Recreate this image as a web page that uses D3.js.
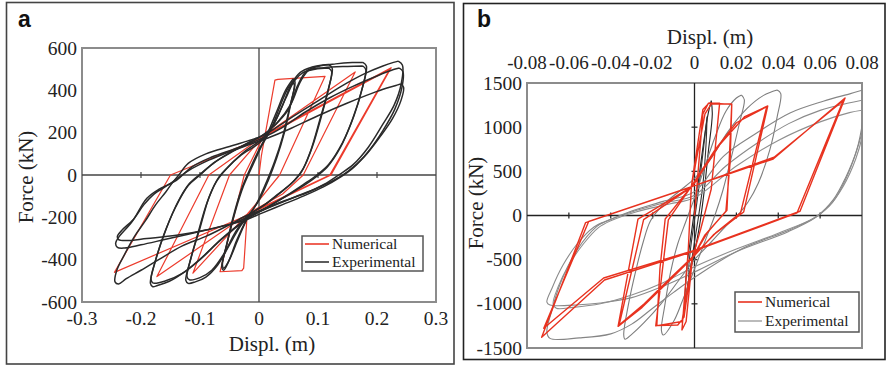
<!DOCTYPE html>
<html>
<head>
<meta charset="utf-8">
<script src="https://cdn.jsdelivr.net/npm/d3@7"></script>
<style>
  body { margin: 0; background: #fff; }
  svg text { font-family: "Liberation Serif", "Times New Roman", serif; fill: #222; }
</style>
</head>
<body>
<svg id="fig" width="888" height="366"></svg>
<script>
// ---- panel a : axes ----
const xTicksA = [-0.3, -0.2, -0.1, 0, 0.1, 0.2, 0.3];
const xTickLabelsA = ['-0.3', '-0.2', '-0.1', '0', '0.1', '0.2', '0.3'];
const yTicksA = [-600, -400, -200, 0, 200, 400, 600];

// ---- panel b : axes ----
const xTicksB = [-0.08, -0.06, -0.04, -0.02, 0, 0.02, 0.04, 0.06, 0.08];
const xTickLabelsB = ['-0.08', '-0.06', '-0.04', '-0.02', '0', '0.02', '0.04', '0.06', '0.08'];
const yTicksB = [-1500, -1000, -500, 0, 500, 1000, 1500];

const legendLabels = ['Numerical', 'Experimental'];

// panel a, numerical: one path in loading order [displ m, force kN]
const numericalA = [
  [0, 0], [0.004, 90], [0.027, 448], [0.032, 452], [0.065, 458], [0.112, 466],
  [0.035, 0], [0.0, -120], [-0.02, -185], [-0.026, -440], [-0.029, -452], [-0.066, -457],
  [-0.025, 0], [0.008, 185], [0.163, 487],
  [0.075, 0], [0.04, -90], [-0.02, -185], [-0.112, -464],
  [-0.05, 0], [0.008, 185], [0.222, 502],
  [0.12, 0], [-0.02, -185], [-0.173, -480],
  [-0.085, 0], [0.008, 185], [0.224, 507],
  [0.122, 0], [-0.02, -190], [-0.245, -460],
  [-0.15, 0], [0.008, 180], [0.222, 500], [0.12, 0]
];

// panel a, experimental: one list per cycle
const experimentalA = [
  [[0.058, 455], [0.061, 440], [0.054, 340], [0.043, 200], [0.03, 80], [0.015, -30], [0, -120], [-0.018, -195], [-0.035, -300], [-0.05, -400], [-0.06, -450], [-0.063, -438], [-0.055, -330], [-0.043, -190], [-0.03, -70], [-0.015, 30], [0, 120], [0.015, 200], [0.03, 300], [0.045, 400], [0.058, 455]],
  [[0.057, 440], [0.06, 425], [0.052, 320], [0.04, 180], [0.026, 60], [0.01, -50], [-0.005, -140], [-0.02, -205], [-0.038, -310], [-0.052, -410], [-0.06, -440], [-0.062, -425], [-0.053, -310], [-0.04, -170], [-0.026, -50], [-0.01, 50], [0.005, 140], [0.02, 215], [0.035, 320], [0.048, 405], [0.057, 440]],
  [[0.118, 522], [0.124, 505], [0.119, 420], [0.106, 280], [0.09, 130], [0.075, 30], [0.06, -25], [0.04, -75], [0.015, -130], [-0.01, -175], [-0.03, -235], [-0.05, -330], [-0.07, -425], [-0.09, -482], [-0.108, -505], [-0.12, -512], [-0.124, -498], [-0.118, -420], [-0.104, -280], [-0.088, -130], [-0.072, -30], [-0.055, 30], [-0.03, 95], [0, 150], [0.02, 215], [0.04, 330], [0.055, 430], [0.07, 485], [0.09, 510], [0.108, 520], [0.118, 522]],
  [[0.118, 505], [0.123, 490], [0.117, 400], [0.103, 260], [0.087, 110], [0.072, 15], [0.055, -40], [0.03, -95], [0.005, -150], [-0.02, -195], [-0.04, -270], [-0.06, -375], [-0.08, -450], [-0.1, -485], [-0.118, -495], [-0.122, -480], [-0.115, -390], [-0.1, -250], [-0.084, -100], [-0.068, -10], [-0.05, 45], [-0.025, 110], [0.005, 170], [0.025, 240], [0.045, 360], [0.06, 445], [0.075, 485], [0.095, 500], [0.118, 505]],
  [[0.176, 532], [0.182, 515], [0.176, 420], [0.161, 280], [0.141, 150], [0.118, 50], [0.098, 0], [0.075, -45], [0.045, -100], [0.015, -150], [-0.012, -190], [-0.035, -235], [-0.065, -305], [-0.095, -385], [-0.125, -455], [-0.152, -502], [-0.172, -522], [-0.18, -528], [-0.184, -512], [-0.177, -420], [-0.161, -280], [-0.141, -150], [-0.12, -50], [-0.1, 0], [-0.078, 55], [-0.05, 105], [-0.02, 150], [0.005, 185], [0.025, 230], [0.05, 310], [0.065, 420], [0.08, 490], [0.1, 513], [0.13, 525], [0.158, 531], [0.176, 532]],
  [[0.176, 515], [0.181, 498], [0.174, 400], [0.158, 260], [0.138, 130], [0.115, 35], [0.095, -12], [0.07, -60], [0.04, -110], [0.01, -160], [-0.015, -200], [-0.04, -250], [-0.07, -320], [-0.1, -400], [-0.13, -465], [-0.158, -500], [-0.18, -510], [-0.183, -492], [-0.175, -400], [-0.158, -260], [-0.138, -130], [-0.118, -40], [-0.097, 10], [-0.075, 60], [-0.045, 110], [-0.015, 155], [0.01, 195], [0.03, 245], [0.055, 340], [0.07, 440], [0.085, 495], [0.11, 507], [0.15, 513], [0.176, 515]],
  [[0.236, 538], [0.243, 520], [0.241, 430], [0.229, 330], [0.21, 240], [0.185, 130], [0.16, 50], [0.135, 0], [0.11, -45], [0.08, -85], [0.04, -125], [0.005, -165], [-0.02, -190], [-0.05, -235], [-0.09, -290], [-0.13, -335], [-0.17, -400], [-0.2, -450], [-0.225, -490], [-0.238, -515], [-0.244, -505], [-0.241, -450], [-0.228, -376], [-0.211, -290], [-0.193, -218], [-0.175, -140], [-0.158, -80], [-0.145, -30], [-0.136, 0], [-0.12, 55], [-0.09, 100], [-0.05, 135], [-0.02, 160], [0.005, 185], [0.03, 225], [0.06, 280], [0.1, 350], [0.14, 420], [0.18, 480], [0.21, 515], [0.228, 532], [0.236, 538]],
  [[0.238, 505], [0.244, 488], [0.242, 410], [0.23, 310], [0.21, 210], [0.185, 110], [0.16, 35], [0.138, -10], [0.11, -55], [0.075, -100], [0.04, -140], [0.005, -180], [-0.025, -215], [-0.075, -250], [-0.12, -280], [-0.16, -305], [-0.2, -330], [-0.228, -345], [-0.24, -342], [-0.243, -322], [-0.238, -295], [-0.215, -220], [-0.19, -110], [-0.17, -68], [-0.14, -25], [-0.113, 40], [-0.08, 85], [-0.045, 120], [-0.015, 150], [0.01, 180], [0.04, 225], [0.08, 300], [0.12, 365], [0.16, 420], [0.2, 468], [0.228, 498], [0.238, 505]],
  [[0.24, 430], [0.245, 415], [0.241, 355], [0.226, 265], [0.205, 180], [0.178, 85], [0.152, 20], [0.13, -20], [0.1, -60], [0.06, -105], [0.02, -150], [-0.01, -185], [-0.04, -225], [-0.09, -260], [-0.14, -285], [-0.19, -300], [-0.225, -310], [-0.238, -305], [-0.24, -290], [-0.232, -260], [-0.213, -210], [-0.195, -140], [-0.178, -90], [-0.15, -40], [-0.12, 20], [-0.085, 70], [-0.05, 110], [-0.015, 145], [0.015, 175], [0.05, 215], [0.1, 280], [0.15, 340], [0.2, 395], [0.232, 423], [0.24, 430]]
];

// panel b, numerical: one path in loading order
const numericalB = [
  [0, 0], [0.004, 1150], [0.0066, 1270], [0.012, 1272],
  [0.008, 300], [0.003, -150], [-0.001, -480], [-0.004, -1200], [-0.006, -1296],
  [-0.003, -400], [-0.0015, 330], [0.004, 1200], [0.007, 1275], [0.0178, 1258],
  [0.017, 600], [0.015, 50], [0.006, -200], [-0.001, -480], [-0.005, -1150], [-0.008, -1240], [-0.018, -1245],
  [-0.0165, -600], [-0.014, -40], [-0.0015, 330], [0.005, 1150], [0.008, 1262], [0.0178, 1262],
  [0.0155, 60], [0.005, -220], [-0.001, -480], [-0.006, -1200], [-0.0185, -1250],
  [-0.0125, -50], [-0.0015, 330], [0.01, 750], [0.02, 1050], [0.0345, 1232],
  [0.022, 30], [0.01, -200], [-0.001, -470], [-0.012, -720], [-0.024, -1000], [-0.036, -1240],
  [-0.0243, -47], [-0.001, 330], [0.012, 800], [0.024, 1120], [0.035, 1240],
  [0.0235, 40], [0.009, -220], [-0.001, -480], [-0.013, -760], [-0.025, -1040], [-0.0365, -1255],
  [-0.027, -40], [-0.001, 330], [0.0376, 640], [0.0719, 1330],
  [0.0504, 48], [-0.001, -400], [-0.0434, -708], [-0.072, -1277],
  [-0.0505, -66], [-0.001, 330], [0.038, 660], [0.071, 1300],
  [0.049, 30], [-0.001, -410], [-0.043, -730], [-0.073, -1379],
  [-0.052, -80], [-0.002, 320]
];

// panel b, experimental: one list per cycle
const experimentalB = [
  [[0.008, 1300], [0.0085, 1150], [0.0065, 700], [0.0045, 250], [0.0025, -100], [0, -420], [-0.003, -750], [-0.0045, -1000], [-0.0045, -900], [-0.0035, -550], [-0.0015, -200], [0.0005, 150], [0.0025, 500], [0.0045, 850], [0.0065, 1150], [0.008, 1300]],
  [[0.006, 1120], [0.0055, 800], [0.004, 350], [0.002, 0], [0, -300], [-0.002, -600], [-0.003, -700], [-0.002, -400], [0, -50], [0.002, 300], [0.004, 700], [0.006, 1120]],
  [[0.0225, 1364], [0.0238, 1310], [0.0215, 1050], [0.0175, 650], [0.0135, 280], [0.01, 20], [0.006, -230], [0.002, -480], [-0.002, -730], [-0.006, -980], [-0.01, -1200], [-0.0149, -1353], [-0.0158, -1300], [-0.0142, -1020], [-0.0115, -650], [-0.008, -320], [-0.004, -60], [0, 200], [0.005, 560], [0.01, 900], [0.015, 1180], [0.02, 1330], [0.0225, 1364]],
  [[0.0395, 1420], [0.0412, 1380], [0.0395, 1120], [0.036, 745], [0.0305, 368], [0.0255, 150], [0.0215, 28], [0.015, -120], [0.008, -300], [0, -500], [-0.008, -750], [-0.016, -1000], [-0.024, -1210], [-0.03, -1345], [-0.0332, -1401], [-0.0338, -1350], [-0.0315, -1000], [-0.028, -620], [-0.0245, -300], [-0.021, -60], [-0.015, 120], [-0.007, 280], [0, 420], [0.008, 650], [0.016, 950], [0.025, 1210], [0.033, 1360], [0.0395, 1420]],
  [[0.08, 1418], [0.0812, 1350], [0.0805, 1100], [0.0775, 745], [0.072, 420], [0.0663, 179], [0.0584, -9], [0.0456, -160], [0.0217, -387], [0.001, -685], [-0.01, -870], [-0.02, -1050], [-0.03, -1230], [-0.04, -1340], [-0.055, -1385], [-0.069, -1391], [-0.0705, -1320], [-0.0685, -1104], [-0.064, -764], [-0.056, -387], [-0.0466, -123], [-0.042, -66], [-0.03, 50], [-0.015, 160], [0, 270], [0.0138, 670], [0.0297, 934], [0.0456, 1160], [0.0615, 1293], [0.0745, 1380], [0.08, 1418]],
  [[0.0805, 1307], [0.0815, 1250], [0.0805, 1000], [0.077, 700], [0.072, 400], [0.066, 150], [0.058, -20], [0.045, -180], [0.02, -410], [0, -640], [-0.015, -800], [-0.03, -930], [-0.045, -990], [-0.055, -1010], [-0.069, -1013], [-0.0705, -980], [-0.068, -820], [-0.063, -570], [-0.056, -320], [-0.048, -130], [-0.043, -70], [-0.03, 40], [-0.015, 140], [0, 230], [0.015, 560], [0.03, 820], [0.045, 1040], [0.06, 1190], [0.073, 1270], [0.0805, 1307]],
  [[0.0805, 1193], [0.0815, 1140], [0.0805, 940], [0.077, 640], [0.071, 330], [0.064, 100], [0.057, -30], [0.04, -200], [0.02, -380], [0, -580], [-0.015, -760], [-0.03, -900], [-0.045, -1000], [-0.058, -1040], [-0.066, -1050], [-0.0675, -1000], [-0.065, -800], [-0.06, -560], [-0.053, -320], [-0.046, -140], [-0.04, -60], [-0.028, 40], [-0.012, 130], [0, 200], [0.02, 560], [0.04, 850], [0.06, 1060], [0.074, 1165], [0.0805, 1193]]
];

const svg = d3.select('#fig');

function drawPanel(cfg) {
  const g = svg.append('g');
  const x = d3.scaleLinear().domain(cfg.xDomain).range([cfg.left, cfg.right]);
  const y = d3.scaleLinear().domain(cfg.yDomain).range([cfg.bottom, cfg.top]);

  // outer frame
  g.append('rect')
    .attr('x', cfg.frame[0]).attr('y', cfg.frame[1])
    .attr('width', cfg.frame[2]).attr('height', cfg.frame[3])
    .attr('fill', 'none').attr('stroke', cfg.frameColor).attr('stroke-width', 1.6);

  g.append('text')
    .attr('x', cfg.tagX).attr('y', 27)
    .style('font-family', '"Liberation Sans", Arial, sans-serif')
    .style('font-weight', 'bold').style('font-size', '23px').style('fill', '#111')
    .text(cfg.tag);

  const clipId = 'clip-' + cfg.tag;
  g.append('clipPath').attr('id', clipId)
    .append('rect')
    .attr('x', cfg.left).attr('y', cfg.top)
    .attr('width', cfg.right - cfg.left).attr('height', cfg.bottom - cfg.top);

  // plot box
  g.append('rect')
    .attr('x', cfg.left).attr('y', cfg.top)
    .attr('width', cfg.right - cfg.left).attr('height', cfg.bottom - cfg.top)
    .attr('fill', '#fff').attr('stroke', '#8c8c8c').attr('stroke-width', 2);

  // zero lines
  g.append('line')
    .attr('x1', cfg.left).attr('x2', cfg.right).attr('y1', y(0)).attr('y2', y(0))
    .attr('stroke', cfg.zeroColor).attr('stroke-width', 1.3);
  g.append('line')
    .attr('x1', x(0)).attr('x2', x(0)).attr('y1', cfg.top).attr('y2', cfg.bottom)
    .attr('stroke', cfg.zeroColor).attr('stroke-width', 1.3);

  // small ticks on the zero lines
  g.selectAll('.xt').data(cfg.xTicks.filter(d => d !== 0 && x(d) > cfg.left + 2 && x(d) < cfg.right - 2))
    .enter().append('line')
    .attr('x1', d => x(d)).attr('x2', d => x(d))
    .attr('y1', y(0) - 3).attr('y2', y(0) + 3)
    .attr('stroke', cfg.zeroColor).attr('stroke-width', 1.2);
  if (cfg.yZeroTicks) {
    g.selectAll('.yt').data(cfg.yTicks.filter(d => d !== 0 && y(d) > cfg.top + 2 && y(d) < cfg.bottom - 2))
      .enter().append('line')
      .attr('x1', x(0) - 3).attr('x2', x(0) + 3)
      .attr('y1', d => y(d)).attr('y2', d => y(d))
      .attr('stroke', cfg.zeroColor).attr('stroke-width', 1.2);
  }

  // tick labels
  g.selectAll('.yl').data(cfg.yTicks).enter().append('text')
    .attr('x', cfg.left - 5).attr('y', d => y(d) + 6.5)
    .attr('text-anchor', 'end').style('font-size', '19.5px')
    .text(d => d);
  g.selectAll('.xl').data(cfg.xTicks).enter().append('text')
    .attr('x', d => x(d)).attr('y', cfg.xLabelY)
    .attr('text-anchor', 'middle').style('font-size', cfg.xLabelSize)
    .text((d, i) => cfg.xTickLabels[i]);

  // axis titles
  g.append('text')
    .attr('x', cfg.xTitle[0]).attr('y', cfg.xTitle[1])
    .attr('text-anchor', 'middle').style('font-size', '21px')
    .text('Displ. (m)');
  g.append('text')
    .attr('transform', `translate(${cfg.yTitle[0]},${cfg.yTitle[1]}) rotate(-90)`)
    .attr('text-anchor', 'middle').style('font-size', '21px')
    .text('Force (kN)');

  // curves
  const plot = g.append('g').attr('clip-path', `url(#${clipId})`);
  const straight = d3.line().x(d => x(d[0])).y(d => y(d[1]));
  const smooth = d3.line().x(d => x(d[0])).y(d => y(d[1])).curve(d3.curveCatmullRom.alpha(0.5));

  const drawNum = () => plot.append('path')
    .datum(cfg.numerical)
    .attr('d', straight)
    .attr('fill', 'none').attr('stroke', cfg.numColor).attr('stroke-width', cfg.numWidth)
    .attr('stroke-linejoin', 'round');
  const drawExp = () => plot.selectAll('.exp').data(cfg.experimental).enter().append('path')
    .attr('d', smooth)
    .attr('fill', 'none')
    .attr('stroke', (d, i) => cfg.expColors[i % cfg.expColors.length])
    .attr('stroke-width', cfg.expWidth);

  if (cfg.numOnTop) { drawExp(); drawNum(); } else { drawNum(); drawExp(); }

  // legend
  const lg = g.append('g');
  lg.append('rect')
    .attr('x', cfg.legend[0]).attr('y', cfg.legend[1])
    .attr('width', cfg.legend[2]).attr('height', cfg.legend[3])
    .attr('fill', '#fff').attr('stroke', '#555').attr('stroke-width', 1.5);
  const rows = [cfg.numColor, cfg.legendExpColor];
  rows.forEach((c, i) => {
    const ly = cfg.legend[1] + cfg.legendRow0 + i * cfg.legendStep;
    lg.append('line')
      .attr('x1', cfg.legend[0] + 3).attr('x2', cfg.legend[0] + 27)
      .attr('y1', ly).attr('y2', ly)
      .attr('stroke', c).attr('stroke-width', 1.6);
    lg.append('text')
      .attr('x', cfg.legend[0] + 30).attr('y', ly + 5)
      .style('font-size', '15.5px')
      .text(legendLabels[i]);
  });
}

drawPanel({
  tag: 'a', tagX: 18,
  frame: [6.5, 2.5, 447.5, 361.5], frameColor: '#444',
  left: 82, right: 436, top: 48, bottom: 302,
  xDomain: [-0.3, 0.3], yDomain: [-600, 600],
  xTicks: xTicksA, xTickLabels: xTickLabelsA, yTicks: yTicksA,
  xLabelY: 324.5, xLabelSize: '19.5px', yZeroTicks: false,
  xTitle: [272, 351], yTitle: [33, 177],
  zeroColor: '#444',
  numerical: numericalA, experimental: experimentalA,
  numColor: '#ec3b2c', numWidth: 1.2,
  expColors: ['#2a2a2a'], expWidth: 1.5, numOnTop: false,
  legendExpColor: '#333',
  legend: [302, 236, 121, 35], legendRow0: 8, legendStep: 18
});

drawPanel({
  tag: 'b', tagX: 477,
  frame: [463.5, 3.5, 421.5, 356], frameColor: '#222',
  left: 527, right: 862, top: 83, bottom: 348,
  xDomain: [-0.08, 0.08], yDomain: [-1500, 1500],
  xTicks: xTicksB, xTickLabels: xTickLabelsB, yTicks: yTicksB,
  xLabelY: 69, xLabelSize: '19px', yZeroTicks: true,
  xTitle: [710, 44], yTitle: [483, 203],
  zeroColor: '#222',
  numerical: numericalB, experimental: experimentalB,
  numColor: '#e8321f', numWidth: 1.4,
  expColors: ['#222', '#333', '#7d7d7d', '#7d7d7d', '#858585', '#8a8a8a', '#8f8f8f'], expWidth: 1.1, numOnTop: true,
  legendExpColor: '#aaa',
  legend: [735, 292, 124, 40], legendRow0: 10, legendStep: 19
});
</script>
</body>
</html>
